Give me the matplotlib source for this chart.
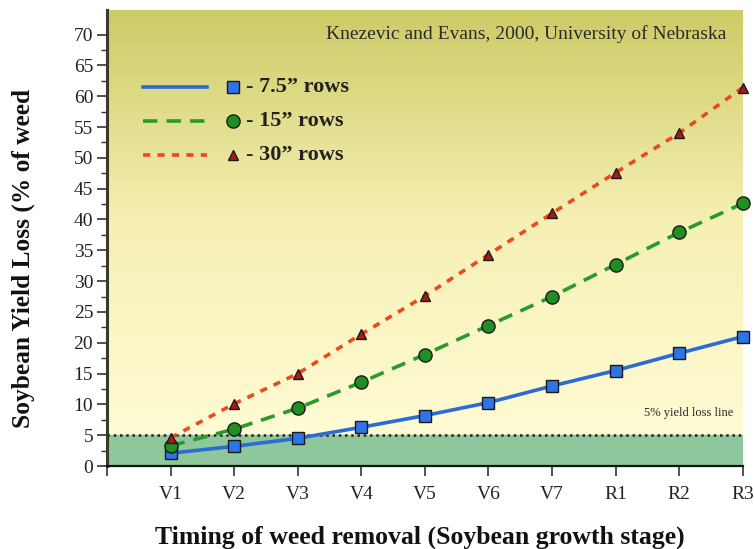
import numpy as np
import matplotlib.pyplot as plt
from matplotlib.colors import LinearSegmentedColormap

# growth stages and yield loss (%)
stages = ['V1', 'V2', 'V3', 'V4', 'V5', 'V6', 'V7', 'R1', 'R2', 'R3']
loss_75 = [2.1, 3.2, 4.5, 6.3, 8.2, 10.3, 13.0, 15.5, 18.3, 21.0]
loss_15 = [3.3, 6.0, 9.4, 13.6, 18.1, 22.8, 27.5, 32.7, 37.9, 42.6]
loss_30 = [4.6, 10.1, 15.0, 21.4, 27.6, 34.3, 41.0, 47.6, 54.0, 61.4]
labels = ['- 7.5\u201d rows', '- 15\u201d rows', '- 30\u201d rows']
threshold = 5

serif = ['Liberation Serif', 'DejaVu Serif']
plt.rcParams['font.family'] = serif

fig = plt.figure(figsize=(7.54, 5.49), dpi=100)
ax = fig.add_axes([0.142, 0.151, 0.843, 0.831])

x = np.arange(1, len(stages) + 1)
ymax = 74

# yellow gradient background above the 5% line, green band below
cmap = LinearSegmentedColormap.from_list('bg', ['#fffbd4', '#f6f0b4', '#cccb66'])
grad = np.linspace(0, 1, 256).reshape(-1, 1)
ax.imshow(grad, extent=[0, 10, threshold, ymax], origin='lower', aspect='auto',
          cmap=cmap, zorder=0)
ax.axhspan(0, threshold, color='#8ec79b', zorder=0.5)
ax.axhline(threshold, color='#222222', ls=(0, (1, 1.5)), lw=1.8, zorder=1)

series = [
    (loss_75, '#2a6bd6', '-', 's', '#2f74e6', 8.5),
    (loss_15, '#2a9a2a', (0, (4, 2.5)), 'o', '#1f8f24', 9.5),
    (loss_30, '#ea4a1c', (0, (2, 2)), '^', '#a51c1c', 7),
]
for vals, col, ls, mk, mcol, ms in series:
    ax.plot(x, vals, color=col, ls=ls, lw=2.6, marker=mk, ms=ms,
            mfc=mcol, mec='#1a1a1a', mew=1.0, zorder=3, clip_on=False)

# legend drawn by hand: line sample, then marker, then label
leg_y = [0.830, 0.757, 0.681]
for (vals, col, ls, mk, mcol, ms), lab, yy in zip(series, labels, leg_y):
    ax.plot([0.057, 0.157], [yy, yy], transform=ax.transAxes, color=col,
            ls=ls, lw=2.6, zorder=4)
    ax.plot([0.198], [yy], transform=ax.transAxes, marker=mk, ms=ms,
            mfc=mcol, mec='#1a1a1a', mew=1.0, zorder=4)
    ax.text(0.218, yy, lab, transform=ax.transAxes, ha='left', va='center',
            fontsize=16, fontweight='bold', color='#222222')

ax.text(0.975, 0.947, 'Knezevic and Evans, 2000, University of Nebraska',
        transform=ax.transAxes, ha='right', va='center', fontsize=14,
        color='#2a2a2a')
ax.text(9.85, 8.6, '5% yield loss line', ha='right', va='center', fontsize=9,
        color='#2a2a2a')

ax.set_xlim(0, 10)
ax.set_ylim(0, ymax)
ax.set_xticks(np.arange(0, len(stages) + 1))
ax.set_xticklabels([''] + stages)
ax.set_yticks(np.arange(0, 71, 5))
ax.set_yticks(np.arange(2.5, 71, 2.5), minor=True)
ax.tick_params(axis='both', which='major', labelsize=14, length=7, width=1.2,
               color='#333333', labelcolor='#222222')
ax.tick_params(axis='y', which='minor', length=4, width=1.0, color='#333333')
ax.tick_params(axis='x', pad=7)
ax.tick_params(axis='y', pad=3)

for side in ['top', 'right']:
    ax.spines[side].set_visible(False)
ax.spines['left'].set_linewidth(2.2)
ax.spines['left'].set_color('#3a3a2a')
ax.spines['bottom'].set_linewidth(1.6)
ax.spines['bottom'].set_color('#111111')

fig.text(0.557, 0.022, 'Timing of weed removal (Soybean growth stage)', ha='center',
         va='center', fontsize=18.5, fontweight='bold', color='#111111')
fig.text(0.031, 0.53, 'Soybean Yield Loss (% of weed', ha='center', va='center',
         rotation=90, fontsize=18.3, fontweight='bold', color='#111111')

fig.savefig('out.png', dpi=100, facecolor='white')
